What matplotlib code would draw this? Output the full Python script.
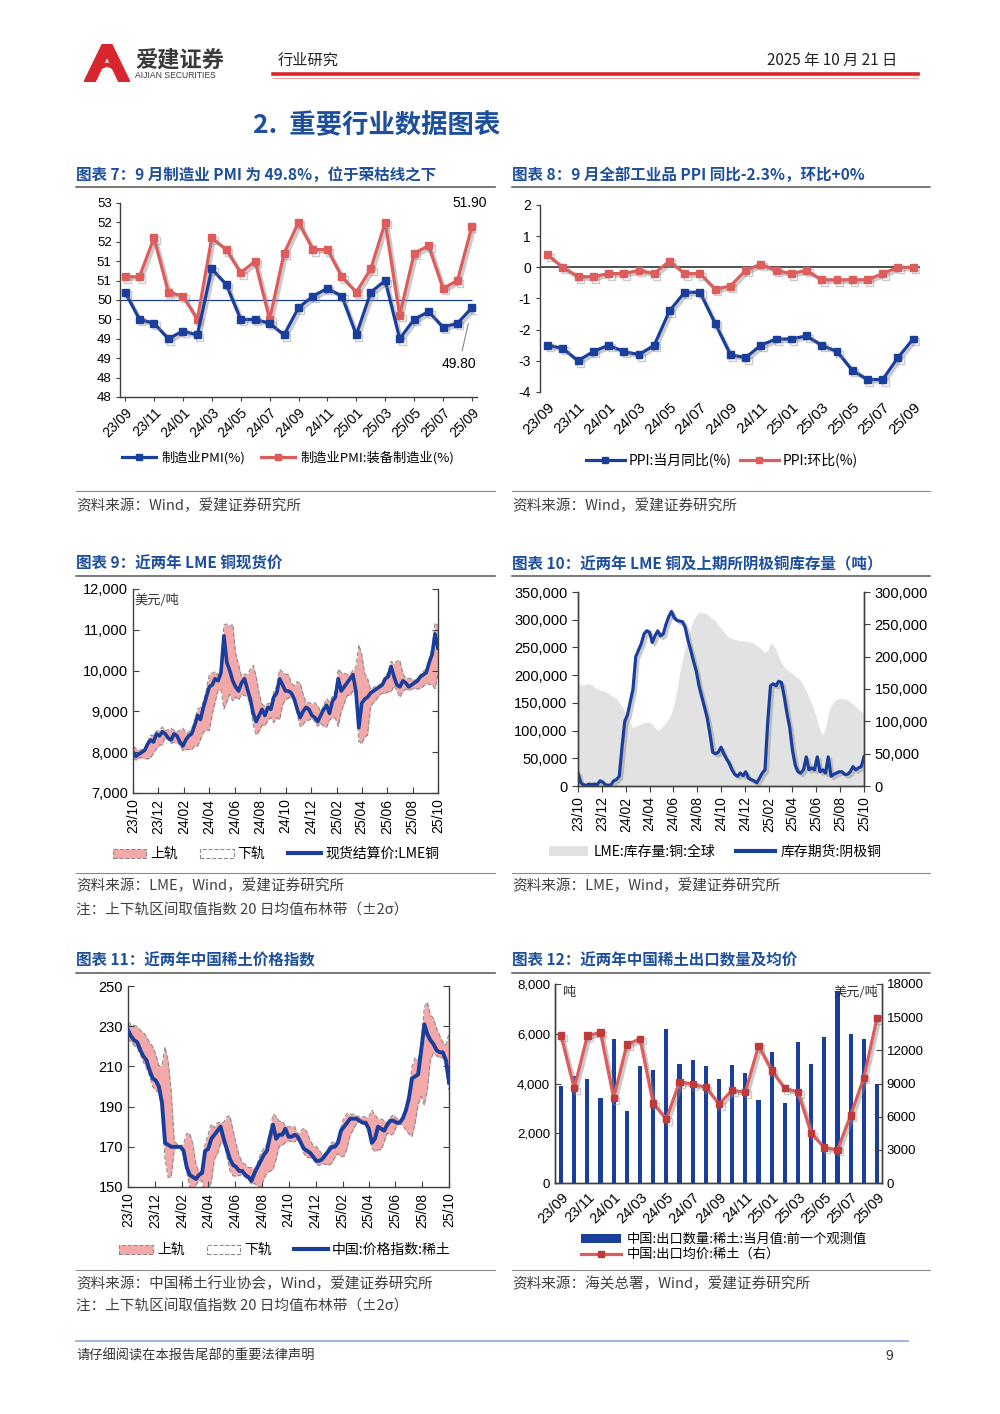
import numpy as np
import pandas as pd
import matplotlib
matplotlib.use('Agg')
import matplotlib.pyplot as plt
import matplotlib.patheffects as pe
from matplotlib.lines import Line2D
from matplotlib.patches import Patch, Polygon

plt.rcParams['font.family'] = ['Noto Sans CJK SC', 'DejaVu Sans']
plt.rcParams['axes.unicode_minus'] = False

# ---------------- data ----------------
months = pd.period_range('2023-09', '2025-09', freq='M').strftime('%y/%m').tolist()

# chart 7: PMI
pmi = [50.2, 49.5, 49.4, 49.0, 49.2, 49.1, 50.8, 50.4, 49.5, 49.5, 49.4, 49.1, 49.8,
       50.1, 50.3, 50.1, 49.1, 50.2, 50.5, 49.0, 49.5, 49.7, 49.3, 49.4, 49.8]
pmi_equip = [50.6, 50.6, 51.6, 50.2, 50.1, 49.5, 51.6, 51.3, 50.7, 51.0, 49.5, 51.2, 52.0,
             51.3, 51.3, 50.6, 50.2, 50.8, 52.0, 49.6, 51.2, 51.4, 50.3, 50.5, 51.9]
pmi_ticks = [47.5, 48, 48.5, 49, 49.5, 50, 50.5, 51, 51.5, 52, 52.5]
pmi_ticklabels = ['48', '48', '49', '49', '50', '50', '51', '51', '52', '52', '53']

# chart 8: PPI
ppi_yoy = [-2.5, -2.6, -3.0, -2.7, -2.5, -2.7, -2.8, -2.5, -1.4, -0.8, -0.8, -1.8, -2.8,
           -2.9, -2.5, -2.3, -2.3, -2.2, -2.5, -2.7, -3.3, -3.6, -3.6, -2.9, -2.3]
ppi_mom = [0.4, 0.0, -0.3, -0.3, -0.2, -0.2, -0.1, -0.2, 0.2, -0.2, -0.2, -0.7, -0.6,
           -0.1, 0.1, -0.1, -0.2, -0.1, -0.4, -0.4, -0.4, -0.4, -0.2, 0.0, 0.0]

# chart 9: LME copper spot (weekly readings, USD/t)
cu_spot = [8000, 7900, 7950, 8000, 8050, 8200, 8300, 8250, 8450, 8400,
           8500, 8450, 8350, 8300, 8450, 8400, 8250, 8150, 8300, 8400,
           8450, 8650, 8900, 8800, 9100, 9350, 9600, 9650, 9800, 9750,
           9950, 10850, 10200, 10000, 9750, 9600, 9500, 9700, 9800, 9550,
           9300, 8950, 8750, 8900, 9050, 8900, 9100, 9050, 9350, 9450,
           9800, 9650, 9500, 9500, 9450, 9300, 9050, 8850, 9000, 9100,
           9050, 8900, 8850, 8750, 8900, 9050, 9150, 8950, 9250, 9350,
           9800, 9500, 9600, 9700, 9800, 9900, 9500, 8600, 9200, 9300,
           9350, 9450, 9500, 9550, 9600, 9650, 9800, 9850, 10100, 9850,
           9650, 9600, 9750, 9700, 9600, 9650, 9700, 9750, 9850, 9900,
           9950, 10200, 10400, 10900, 10550]

# chart 10: inventories (weekly readings, thousand tonnes)
lme_stock_k = [185, 183, 182, 184, 185, 183, 178, 175, 173, 172,
               170, 167, 163, 160, 158, 150, 143, 135, 127, 115,
               105, 108, 110, 112, 114, 116, 115, 112, 105, 100,
               103, 110, 115, 122, 132, 150, 175, 205, 228, 250,
               270, 285, 300, 308, 315, 313, 312, 310, 305, 302,
               298, 290, 285, 278, 272, 268, 266, 264, 263, 262,
               262, 261, 260, 259, 257, 254, 250, 245, 240, 245,
               258, 255, 245, 232, 222, 215, 210, 207, 203, 198,
               195, 190, 180, 172, 160, 148, 135, 118, 100, 92,
               105, 130, 145, 152, 156, 158, 158, 157, 155, 152,
               148, 143, 138, 135, 132]
shfe_stock_k = [20, 5, 2, 1, 3, 2, 3, 2, 8, 6,
                2, 1, 2, 8, 10, 15, 60, 100, 110, 130,
                150, 200, 210, 220, 235, 240, 238, 222, 232, 240,
                232, 235, 250, 262, 270, 260, 256, 255, 254, 245,
                225, 210, 193, 178, 155, 138, 122, 105, 80, 52,
                50, 52, 60, 50, 42, 35, 25, 18, 15, 20,
                16, 22, 12, 10, 8, 5, 12, 20, 25, 100,
                155, 158, 155, 162, 160, 138, 112, 90, 55, 32,
                22, 20, 25, 45, 25, 28, 25, 45, 22, 25,
                20, 45, 15, 18, 20, 22, 22, 18, 18, 22,
                30, 25, 28, 30, 45]

# chart 11: China rare earth price index (weekly readings)
re_index = [228, 225, 223, 222, 218, 215, 213, 208, 204, 203,
            200, 192, 172, 171, 170, 170, 170, 170, 168, 160,
            156, 155, 154, 156, 157, 168, 169, 174, 176, 178,
            180, 174, 169, 164, 161, 160, 158, 158, 156, 155,
            153, 157, 160, 163, 166, 168, 175, 181, 174, 176,
            176, 179, 175, 175, 176, 175, 172, 169, 168, 167,
            165, 163, 163, 164, 166, 168, 170, 170, 172, 178,
            180, 182, 184, 184, 184, 183, 182, 182, 179, 172,
            174, 180, 179, 178, 181, 183, 183, 182, 182, 184,
            188, 194, 204, 205, 206, 218, 231, 226, 223, 221,
            218, 217, 217, 213, 202]

# chart 12: rare earth exports
export_qty = [3900, 4300, 4200, 3400, 5800, 2900, 4700, 4550, 6200, 4800, 4930, 4700, 4170,
              4730, 4410, 3320, 5280, 3200, 5650, 4770, 5860, 7730, 5980, 5770, 3980]
export_price = [13340, 8560, 13340, 13610, 7680, 12520, 13040, 7200, 5780, 9140, 8960, 8650, 7140,
                8380, 8230, 12400, 10170, 8560, 8230, 4510, 3210, 3000, 6110, 9530, 14910]

# ---------------- style ----------------
W, H = 1000, 1414
BLUE = '#1a3e9c'
RED = '#dd5c5c'
DARKRED = '#c03a3a'
PINK = '#f3a9a9'
TITLE_BLUE = '#1d4f9c'
TXT = '#333333'
NUMFONT = ['Liberation Sans', 'Noto Sans CJK SC']

fig = plt.figure(figsize=(W / 100, H / 100), dpi=100)


def px_axes(l, t, r, b):
    return fig.add_axes([l / W, 1 - b / H, (r - l) / W, (b - t) / H])


def ftext(x, y, s, **kw):
    fig.text(x / W, 1 - y / H, s, **kw)


def fline(x0, x1, y, **kw):
    fig.add_artist(Line2D([x0 / W, x1 / W], [1 - y / H] * 2, transform=fig.transFigure, **kw))


def bands(vals, n=4):
    # 20-day Bollinger (about 4 weekly readings), +-2 sigma
    s = pd.Series(vals, dtype=float)
    mid = s.rolling(n, min_periods=1).mean()
    sd = s.rolling(n, min_periods=2).std().bfill()
    return mid + 2 * sd, mid - 2 * sd


def spines(ax, show, color='#404040'):
    for k, sp in ax.spines.items():
        sp.set_visible(k in show)
        sp.set_color(color)
        sp.set_linewidth(1.0)


shadow = [pe.SimpleLineShadow(offset=(1.8, -1.8), shadow_color='#8a8a8a', alpha=0.45), pe.Normal()]
fmt = lambda v: f'{v:,}'

# ---------------- header ----------------
logo = px_axes(84, 44, 130, 82)
logo.set_xlim(0, 1)
logo.set_ylim(0, 1)
logo.axis('off')
logo.add_patch(Polygon([[0, 0], [0.4, 1], [0.6, 1], [1, 0], [0.76, 0], [0.5, 0.66], [0.24, 0]],
                       color='#d8262e'))
logo.add_patch(Polygon([[0.1, 0.22], [0.5, 0.42], [0.9, 0.22], [0.86, 0.3], [0.5, 0.5], [0.14, 0.3]],
                       color='#d8262e'))
ftext(135, 60, '爱建证券', fontsize=16, fontweight='bold', color='#3a3a3a', va='center')
ftext(135, 76, 'AIJIAN SECURITIES', fontsize=6.2, color='#3a3a3a', va='center', family=NUMFONT)
ftext(278, 60, '行业研究', fontsize=11, va='center', color='#222222')
ftext(897, 60, '2025 年 10 月 21 日', fontsize=11, ha='right', va='center', color='#222222')
fline(273, 918, 73.5, color='#d8262e', lw=2.6)
fline(273, 918, 77.5, color='#e8a0a0', lw=0.8)
ftext(253, 126, '2.  重要行业数据图表', fontsize=19, fontweight='bold', color=TITLE_BLUE, va='center')

# titles, rules and sources
titles = [(76, 175, '图表 7：9 月制造业 PMI 为 49.8%，位于荣枯线之下'),
          (512, 175, '图表 8：9 月全部工业品 PPI 同比-2.3%，环比+0%'),
          (76, 564, '图表 9：近两年 LME 铜现货价'),
          (512, 564, '图表 10：近两年 LME 铜及上期所阴极铜库存量（吨）'),
          (76, 960, '图表 11：近两年中国稀土价格指数'),
          (512, 960, '图表 12：近两年中国稀土出口数量及均价')]
for tx, ty, s in titles:
    ftext(tx, ty, s, fontsize=11.2, fontweight='bold', color=TITLE_BLUE, va='center')
for y in (187, 576, 973):
    fline(76, 495, y, color='#555555', lw=1.1)
    fline(512, 930, y, color='#555555', lw=1.1)
for y in (491, 873, 1270):
    fline(76, 495, y, color='#8a8a8a', lw=0.8)
    fline(512, 930, y, color='#8a8a8a', lw=0.8)

note = '注：上下轨区间取值指数 20 日均值布林带（±2σ）'
sources = [(76, 506, '资料来源：Wind，爱建证券研究所'),
           (512, 506, '资料来源：Wind，爱建证券研究所'),
           (76, 886, '资料来源：LME，Wind，爱建证券研究所'),
           (76, 911, note),
           (512, 886, '资料来源：LME，Wind，爱建证券研究所'),
           (76, 1284, '资料来源：中国稀土行业协会，Wind，爱建证券研究所'),
           (76, 1307, note),
           (512, 1284, '资料来源：海关总署，Wind，爱建证券研究所')]
for tx, ty, s in sources:
    ftext(tx, ty, s, fontsize=10.5, color='#404040', va='center')

# footer
fline(76, 908, 1341, color='#8fa8d8', lw=1.2)
ftext(76, 1356, '请仔细阅读在本报告尾部的重要法律声明', fontsize=9.5, color=TXT, va='center')
ftext(893, 1356, '9', fontsize=10, color=TXT, va='center', ha='right', family=NUMFONT)

x = np.arange(len(months))

# ---------------- chart 7 ----------------
ax = px_axes(120, 203, 477, 397)
ax.hlines(50, -0.35, x[-1], color=BLUE, lw=0.9, zorder=2)
ax.plot(x, pmi, color=BLUE, lw=2.3, marker='s', ms=5, zorder=4, path_effects=shadow)
ax.plot(x, pmi_equip, color=RED, lw=2.3, marker='s', ms=5, zorder=3, path_effects=shadow)
ax.set_xlim(-0.35, 24.35)
ax.set_ylim(47.5, 52.5)
ax.set_yticks(pmi_ticks, pmi_ticklabels, fontsize=9.5, family=NUMFONT)
ax.set_xticks(x[::2], months[::2], rotation=45, ha='right', rotation_mode='anchor',
              fontsize=10, family=NUMFONT)
ax.tick_params(length=3, color='#404040', pad=3)
spines(ax, ['left', 'bottom'])
ax.annotate(f'{pmi_equip[-1]:.2f}', xy=(x[-1], pmi_equip[-1]), xytext=(-1.5, 16.5),
            textcoords='offset points', ha='center', va='center', fontsize=10, family=NUMFONT)
ax.annotate(f'{pmi[-1]:.2f}', xy=(x[-1] - 0.25, pmi[-1] - 0.4), xytext=(-6.5, -29),
            textcoords='offset points', ha='center', va='center', fontsize=10, family=NUMFONT,
            arrowprops=dict(arrowstyle='-', color='#888888', lw=0.8, shrinkA=2, shrinkB=0))
fig.legend([Line2D([], [], color=BLUE, lw=2.3, marker='s', ms=5),
            Line2D([], [], color=RED, lw=2.3, marker='s', ms=5)],
           ['制造业PMI(%)', '制造业PMI:装备制造业(%)'],
           loc='center', bbox_to_anchor=(288 / W, 1 - 458 / H), ncol=2, frameon=False,
           fontsize=9.5, handlelength=2.6, handletextpad=0.4, columnspacing=1.2)

# ---------------- chart 8 ----------------
ax = px_axes(540, 205, 920, 392)
ax.axhline(0, color='#333333', lw=1.2, zorder=2)
ax.plot(x, ppi_yoy, color=BLUE, lw=2.3, marker='s', ms=5, zorder=4, path_effects=shadow)
ax.plot(x, ppi_mom, color=RED, lw=2.3, marker='s', ms=5, zorder=3, path_effects=shadow)
ax.set_xlim(-0.5, 24.45)
ax.set_ylim(-4, 2)
ax.set_yticks(range(-4, 3), [str(v) for v in range(-4, 3)], fontsize=10, family=NUMFONT)
ax.set_xticks(x[::2], months[::2], rotation=45, ha='right', rotation_mode='anchor',
              fontsize=11, family=NUMFONT)
ax.tick_params(axis='x', length=0, pad=6)
ax.tick_params(axis='y', length=3, color='#404040')
spines(ax, ['left'])
fig.legend([Line2D([], [], color=BLUE, lw=2.3, marker='s', ms=5),
            Line2D([], [], color=RED, lw=2.3, marker='s', ms=5)],
           ['PPI:当月同比(%)', 'PPI:环比(%)'],
           loc='center', bbox_to_anchor=(722 / W, 1 - 460 / H), ncol=2, frameon=False,
           fontsize=10, handlelength=2.8, handletextpad=0.3, columnspacing=0.6)

# date axes for charts 9-11
tick_dates = pd.date_range('2023-10-01', '2025-10-01', freq='2MS').to_pydatetime()
tick_labels = [d.strftime('%y/%m') for d in tick_dates]


def date_axis(ax, dates):
    ax.set_xlim(dates[0], dates[-1])
    ax.set_xticks(tick_dates, tick_labels, rotation=90, ha='center', va='top',
                  fontsize=10, family=NUMFONT)


def band_legend(cx, cy, label):
    fig.legend([Patch(facecolor=PINK, edgecolor='#8c8c8c', linestyle='--', lw=0.8),
                Patch(facecolor='white', edgecolor='#8c8c8c', linestyle='--', lw=0.8),
                Line2D([], [], color=BLUE, lw=3)],
               ['上轨', '下轨', label],
               loc='center', bbox_to_anchor=(cx / W, 1 - cy / H), ncol=3, frameon=False,
               fontsize=10, handlelength=2.4, handleheight=0.6, handletextpad=0.3, columnspacing=1.6)


# ---------------- chart 9 ----------------
ax = px_axes(133, 589, 438, 793)
d9 = pd.date_range('2023-10-01', '2025-10-01', periods=len(cu_spot)).to_pydatetime()
up, lo = bands(cu_spot)
ax.fill_between(d9, lo, up, color=PINK, lw=0, zorder=1)
ax.plot(d9, up, color='#8c8c8c', lw=0.8, ls=(0, (4, 2)), zorder=2)
ax.plot(d9, lo, color='#8c8c8c', lw=0.8, ls=(0, (4, 2)), zorder=2)
ax.plot(d9, cu_spot, color=BLUE, lw=2.6, zorder=3)
ax.set_ylim(7000, 12000)
yt = list(range(7000, 12001, 1000))
ax.set_yticks(yt, [fmt(v) for v in yt], fontsize=10.5, family=NUMFONT)
date_axis(ax, d9)
ax.tick_params(direction='in', length=4, color='#404040', right=True)
ax.tick_params(axis='x', pad=4)
spines(ax, ['left', 'right', 'bottom'])
ax.text(0.005, 0.945, '美元/吨', transform=ax.transAxes, fontsize=9.5, va='center', color=TXT)
band_legend(276, 854, '现货结算价:LME铜')

# ---------------- chart 10 ----------------
ax = px_axes(578, 592, 864, 786)
d10 = pd.date_range('2023-10-01', '2025-10-01', periods=len(lme_stock_k)).to_pydatetime()
ax.fill_between(d10, 0, np.array(lme_stock_k) * 1000, color='#e2e2e2', lw=0, zorder=1)
ax.set_ylim(0, 350000)
yt = list(range(0, 350001, 50000))
ax.set_yticks(yt, [fmt(v) for v in yt], fontsize=10.5, family=NUMFONT)
date_axis(ax, d10)
ax.tick_params(length=4, color='#404040')
spines(ax, ['left', 'right', 'bottom'])
ax2 = ax.twinx()
ax2.plot(d10, np.array(shfe_stock_k) * 1000, color=BLUE, lw=2.3, path_effects=shadow)
ax2.set_ylim(0, 300000)
yt = list(range(0, 300001, 50000))
ax2.set_yticks(yt, [fmt(v) for v in yt], fontsize=10.5, family=NUMFONT)
ax2.tick_params(length=4, color='#404040')
spines(ax2, ['left', 'right', 'bottom'])
date_axis(ax2, d10)
fig.legend([Patch(facecolor='#e2e2e2', edgecolor='none'), Line2D([], [], color=BLUE, lw=3)],
           ['LME:库存量:铜:全球', '库存期货:阴极铜'],
           loc='center', bbox_to_anchor=(715 / W, 1 - 852 / H), ncol=2, frameon=False,
           fontsize=10, handlelength=2.8, handleheight=0.7, handletextpad=0.4, columnspacing=1.5)

# ---------------- chart 11 ----------------
ax = px_axes(128, 986, 449, 1187)
d11 = pd.date_range('2023-10-01', '2025-10-01', periods=len(re_index)).to_pydatetime()
up, lo = bands(re_index)
ax.fill_between(d11, lo, up, color=PINK, lw=0, zorder=1)
ax.plot(d11, up, color='#8c8c8c', lw=0.8, ls=(0, (4, 2)), zorder=2)
ax.plot(d11, lo, color='#8c8c8c', lw=0.8, ls=(0, (4, 2)), zorder=2)
ax.plot(d11, re_index, color=BLUE, lw=2.8, zorder=3)
ax.set_ylim(150, 250)
yt = list(range(150, 251, 20))
ax.set_yticks(yt, [str(v) for v in yt], fontsize=10.5, family=NUMFONT)
date_axis(ax, d11)
ax.tick_params(direction='in', length=4, color='#404040', right=True)
ax.tick_params(axis='x', pad=4)
spines(ax, ['left', 'right', 'bottom'])
band_legend(285, 1250, '中国:价格指数:稀土')

# ---------------- chart 12 ----------------
ax = px_axes(555, 984, 882, 1183)
ax.bar(x, export_qty, width=0.32, color=BLUE, zorder=2)
ax.set_xlim(-0.46, 24.38)
ax.set_ylim(0, 8000)
yt = list(range(0, 8001, 2000))
ax.set_yticks(yt, [fmt(v) for v in yt], fontsize=9.5, family=NUMFONT)
ax.set_xticks(x[::2], months[::2], rotation=45, ha='right', rotation_mode='anchor',
              fontsize=10.5, family=NUMFONT)
ax.tick_params(axis='x', length=0, pad=5)
ax.tick_params(axis='y', direction='in', length=4, color='#404040')
spines(ax, ['left', 'right', 'bottom'])
ax.text(0.02, 0.955, '吨', transform=ax.transAxes, fontsize=9.5, va='center', color=TXT)
ax2 = ax.twinx()
ax2.plot(x, export_price, color=RED, lw=2.3, marker='s', ms=4.5, mfc=DARKRED, mec=DARKRED,
         path_effects=shadow)
ax2.set_ylim(0, 18000)
yt = list(range(0, 18001, 3000))
ax2.set_yticks(yt, [str(v) for v in yt], fontsize=9.5, family=NUMFONT)
ax2.tick_params(direction='in', length=4, color='#404040')
spines(ax2, ['left', 'right', 'bottom'])
ax2.text(0.99, 0.955, '美元/吨', transform=ax2.transAxes, fontsize=9.5, va='center', ha='right',
         color=TXT)
fig.legend([Patch(facecolor=BLUE), Line2D([], [], color=RED, lw=2.3, marker='s', ms=4.5,
                                          mfc=DARKRED, mec=DARKRED)],
           ['中国:出口数量:稀土:当月值:前一个观测值', '中国:出口均价:稀土（右）'],
           loc='center', bbox_to_anchor=(724 / W, 1 - 1247 / H), ncol=1, frameon=False,
           fontsize=9.5, handlelength=3.0, handleheight=0.6, handletextpad=0.4, labelspacing=0.15)

fig.savefig('out.png', dpi=100)
